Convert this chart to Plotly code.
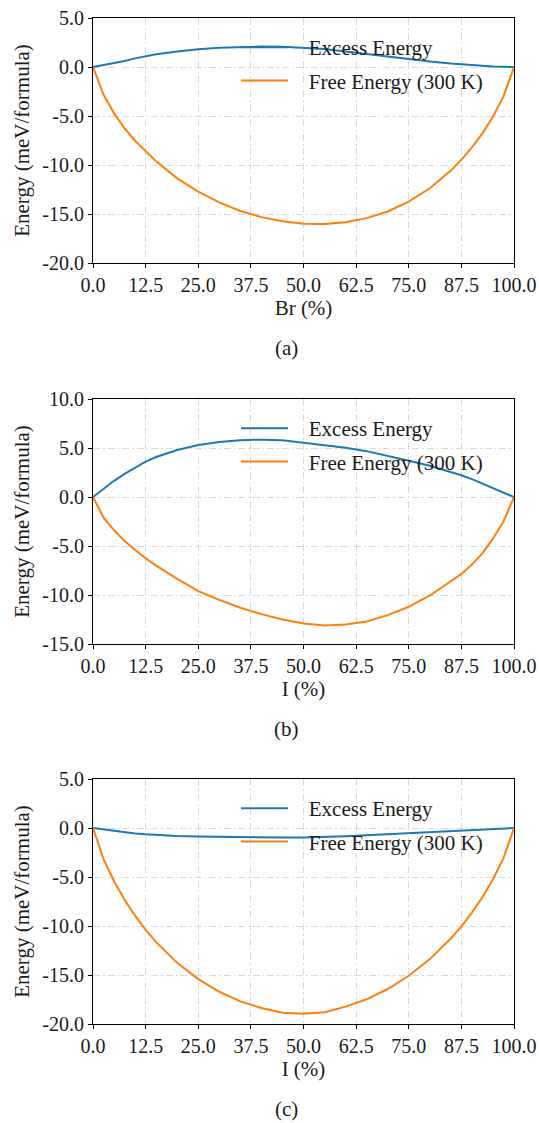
import plotly.graph_objects as go

# ---------------- data ----------------
x_pct = [0, 2.5, 5, 7.5, 10, 12.5, 15, 20, 25, 30, 35, 40, 45, 50, 55, 60,
         65, 70, 75, 80, 85, 87.5, 90, 92.5, 95, 97.5, 100]

# (a) Br
br_excess = [0, 0.2, 0.4, 0.62, 0.88, 1.11, 1.3, 1.58, 1.82, 1.97, 2.05, 2.08,
             2.07, 1.98, 1.83, 1.58, 1.32, 1.05, 0.8, 0.57, 0.36, 0.27, 0.19,
             0.12, 0.06, 0.02, 0]
br_free = [0, -2.82, -4.73, -6.27, -7.52, -8.63, -9.63, -11.36, -12.72, -13.82,
           -14.69, -15.32, -15.75, -16.0, -16.02, -15.85, -15.42, -14.74,
           -13.74, -12.37, -10.57, -9.47, -8.21, -6.77, -5.07, -3.0, 0]

# (b) I
ib_excess = [0, 0.85, 1.65, 2.35, 3.0, 3.62, 4.08, 4.8, 5.3, 5.62, 5.8, 5.85,
             5.78, 5.55, 5.3, 5.02, 4.68, 4.22, 3.7, 3.18, 2.55, 2.22, 1.82,
             1.38, 0.92, 0.47, 0]
ib_free = [0, -2.1, -3.4, -4.5, -5.4, -6.25, -7.0, -8.35, -9.6, -10.5, -11.3,
           -11.95, -12.5, -12.9, -13.1, -13.0, -12.7, -12.05, -11.2, -10.05,
           -8.6, -7.85, -6.9, -5.75, -4.25, -2.5, 0]

# (c) I
ic_excess = [0, -0.15, -0.3, -0.43, -0.55, -0.65, -0.72, -0.82, -0.88, -0.92,
             -0.95, -0.97, -0.98, -0.96, -0.92, -0.83, -0.74, -0.64, -0.54,
             -0.44, -0.34, -0.3, -0.24, -0.17, -0.1, -0.05, 0]
ic_free = [0, -3.17, -5.43, -7.32, -8.95, -10.39, -11.65, -13.76, -15.42,
           -16.71, -17.69, -18.37, -18.85, -18.95, -18.8, -18.23, -17.48,
           -16.43, -15.08, -13.38, -11.27, -10.04, -8.64, -7.06, -5.23, -3.07, 0]

x_tickvals = [0, 12.5, 25, 37.5, 50, 62.5, 75, 87.5, 100]
x_ticktext = ["0.0", "12.5", "25.0", "37.5", "50.0", "62.5", "75.0", "87.5", "100.0"]
y_ticks_a = [-20, -15, -10, -5, 0, 5]
y_text_a = ["-20.0", "-15.0", "-10.0", "-5.0", "0.0", "5.0"]
y_ticks_b = [-15, -10, -5, 0, 5, 10]
y_text_b = ["-15.0", "-10.0", "-5.0", "0.0", "5.0", "10.0"]

series_names = ["Excess Energy", "Free Energy (300 K)"]
x_titles = ["Br (%)", "I (%)", "I (%)"]
y_title = "Energy (meV/formula)"
captions = ["(a)", "(b)", "(c)"]

# ---------------- layout geometry ----------------
W, H = 539, 1123
FONT = "Liberation Serif, Times New Roman, serif"
TXT = "#1a1a1a"
BLUE, ORANGE = "#1f77b4", "#ff7f0e"
PAD = "\u2002\u00a0"  # gap between legend sample and label

x0_px, x1_px = 93, 514
panel_top = [18, 399, 779]
panel_h = 245

def py(px):
    return 1 - px / H

fig = go.Figure()

panels = [
    (br_excess, br_free, y_ticks_a, y_text_a),
    (ib_excess, ib_free, y_ticks_b, y_text_b),
    (ic_excess, ic_free, y_ticks_a, y_text_a),
]

for k, (exc, free, yt, ytt) in enumerate(panels):
    sfx = "" if k == 0 else str(k + 1)
    lg = "legend" if k == 0 else f"legend{k + 1}"
    for name, ys, col in [(series_names[0], exc, BLUE), (series_names[1], free, ORANGE)]:
        fig.add_trace(go.Scatter(
            x=x_pct, y=ys, mode="lines", name=PAD + name,
            line=dict(color=col, width=2),
            xaxis="x" + sfx, yaxis="y" + sfx, legend=lg,
            legendgroup=f"{lg}-{name}",
        ))
    top = panel_top[k]
    axis_common = dict(
        showline=True, linecolor="black", linewidth=1, mirror=True,
        ticks="outside", ticklen=4, tickwidth=1, tickcolor="black",
        showgrid=True, gridcolor="#d9d9d9", gridwidth=1,
        griddash="7px,3px,1.5px,3px",
        zeroline=False, automargin=False,
        tickfont=dict(family=FONT, size=20, color=TXT),
    )
    fig.layout["xaxis" + sfx] = dict(
        axis_common,
        domain=[x0_px / W, x1_px / W],
        anchor="y" + sfx,
        range=[0, 100],
        tickmode="array", tickvals=x_tickvals, ticktext=x_ticktext,
        title=dict(text=x_titles[k], font=dict(family=FONT, size=21, color=TXT), standoff=2),
    )
    fig.layout["yaxis" + sfx] = dict(
        axis_common,
        domain=[py(top + panel_h), py(top)],
        anchor="x" + sfx,
        range=[yt[0], yt[-1]],
        tickmode="array", tickvals=yt, ticktext=ytt,
        title=dict(text=y_title, font=dict(family=FONT, size=21, color=TXT), standoff=6),
    )
    fig.layout[lg] = dict(
        x=236 / W, y=py(top + 9), xanchor="left", yanchor="top",
        bgcolor="rgba(0,0,0,0)", borderwidth=0,
        font=dict(family=FONT, size=21, color=TXT),
        itemwidth=47, tracegroupgap=3, traceorder="grouped",
    )
    fig.add_annotation(
        text=captions[k], xref="paper", yref="paper",
        x=286 / W, y=py(top + 344), xanchor="center", yanchor="bottom",
        showarrow=False, font=dict(family=FONT, size=21, color=TXT),
    )

fig.update_layout(
    width=W, height=H,
    margin=dict(l=0, r=0, t=0, b=0, autoexpand=False),
    paper_bgcolor="white", plot_bgcolor="white",
    showlegend=True,
)

fig.write_html("out.html")
